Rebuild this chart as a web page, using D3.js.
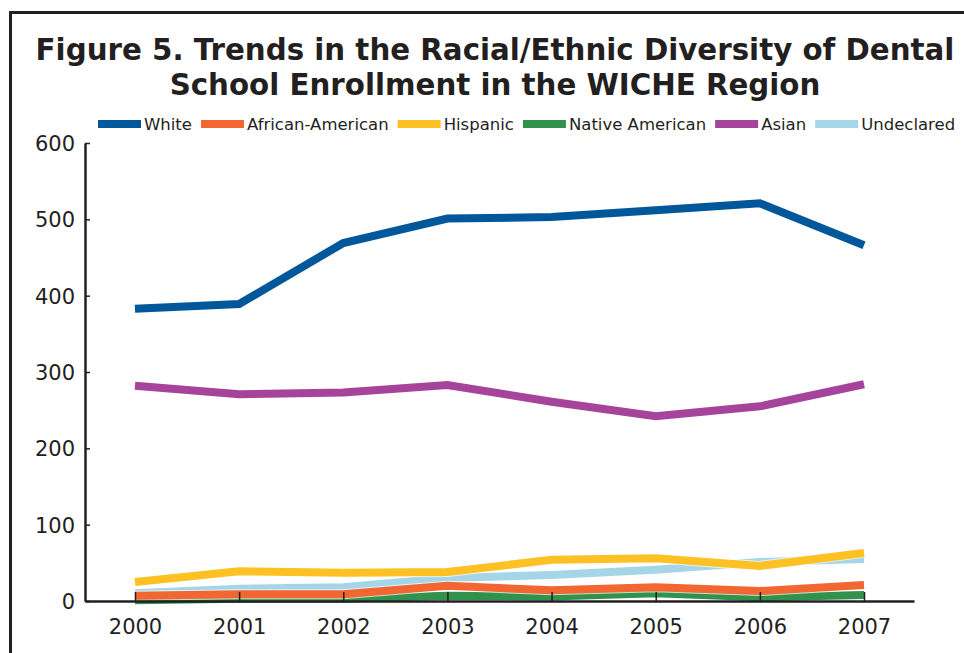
<!DOCTYPE html>
<html>
<head>
<meta charset="utf-8">
<script src="https://cdn.jsdelivr.net/npm/d3@7"></script>
<style>
  body { margin: 0; background: #fff; }
  svg { display: block; font-family: "DejaVu Sans", Verdana, sans-serif; }
  .axis path, .axis line { stroke: #231f20; }
  .axis text { fill: #231f20; font-size: 21px; font-family: "DejaVu Sans", Verdana, sans-serif; }
</style>
</head>
<body>
<div id="chart"></div>
<script>
var years = [2000, 2001, 2002, 2003, 2004, 2005, 2006, 2007];
var yTicks = [0, 100, 200, 300, 400, 500, 600];

var white = [383, 389, 469, 501, 503, 512, 521, 466];
var africanAmerican = [7, 9, 9, 20, 14, 18, 13, 21];
var hispanic = [25, 39, 37, 38, 54, 56, 46, 63];
var nativeAmerican = [1, 3, 3, 7, 6, 10, 5, 8];
var asian = [282, 271, 273, 283, 261, 242, 255, 284];
var undeclared = [10, 16, 18, 30, 34, 41, 51, 55];

var seriesNames = ["White", "African-American", "Hispanic", "Native American", "Asian", "Undeclared"];
var seriesValues = [white, africanAmerican, hispanic, nativeAmerican, asian, undeclared];
var colors = ["#00579a", "#f26631", "#fec123", "#30924c", "#a5449a", "#a5d6e7"];

var widthSvg = 964,
    heightSvg = 653;

var svg = d3.select("#chart").append("svg")
    .attr("width", widthSvg)
    .attr("height", heightSvg);

// outer frame (only top and left edges are visible in the crop)
svg.append("path")
    .attr("d", "M10.5,653 L10.5,12.5 L964,12.5")
    .attr("fill", "none")
    .attr("stroke", "#231f20")
    .attr("stroke-width", 3);

// title
var title = svg.append("text")
    .attr("text-anchor", "middle")
    .attr("font-weight", "bold")
    .attr("font-size", 29.3)
    .attr("fill", "#231f20");
title.append("tspan").attr("x", 495).attr("y", 60)
    .text("Figure 5. Trends in the Racial/Ethnic Diversity of Dental");
title.append("tspan").attr("x", 495).attr("y", 95)
    .text("School Enrollment in the WICHE Region");

var xScale = d3.scalePoint()
    .domain(years)
    .range([85, 914])
    .padding(0.48);

var yScale = d3.scaleLinear()
    .domain([0, 600])
    .range([601, 143]);

// lines (drawn in reverse order so the lower series sit on top)
var line = d3.line()
    .x(function (d, i) { return xScale(years[i]); })
    .y(function (d) { return yScale(d); });

var data = seriesNames.map(function (name, i) {
    return { name: name, values: seriesValues[i], color: colors[i] };
});

var lines = svg.append("g");
data.slice().reverse().forEach(function (s) {
    lines.append("path")
        .attr("d", line(s.values))
        .attr("fill", "none")
        .attr("stroke", "#fff")
        .attr("stroke-opacity", 0.7)
        .attr("stroke-width", 10)
        .attr("stroke-linejoin", "miter");
    lines.append("path")
        .attr("d", line(s.values))
        .attr("fill", "none")
        .attr("stroke", s.color)
        .attr("stroke-width", 8)
        .attr("stroke-linejoin", "miter");
});

// axes
var xAxis = svg.append("g")
    .attr("class", "axis")
    .attr("transform", "translate(0,601)")
    .call(d3.axisBottom(xScale).tickSize(-9).tickSizeOuter(0).tickPadding(18));
xAxis.select(".domain").attr("stroke-width", 2.5);
xAxis.selectAll(".tick line").attr("stroke-width", 1.5);

var yAxis = svg.append("g")
    .attr("class", "axis")
    .attr("transform", "translate(85,0)")
    .call(d3.axisLeft(yScale).tickValues(yTicks).tickSize(-5).tickSizeOuter(0).tickPadding(10));
yAxis.select(".domain").attr("stroke-width", 2.5);
yAxis.selectAll(".tick line").attr("stroke-width", 1.5);
yAxis.selectAll(".tick text").attr("dy", "0.36em");

// legend
var legend = svg.append("g")
    .attr("font-size", 16.5)
    .attr("fill", "#231f20");
var lx = 98;
data.forEach(function (s) {
    legend.append("rect")
        .attr("x", lx)
        .attr("y", 120)
        .attr("width", 43)
        .attr("height", 8)
        .attr("fill", s.color);
    var t = legend.append("text")
        .attr("x", lx + 46)
        .attr("y", 130)
        .text(s.name);
    lx += 46 + t.node().getComputedTextLength() + 9;
});
</script>
</body>
</html>
